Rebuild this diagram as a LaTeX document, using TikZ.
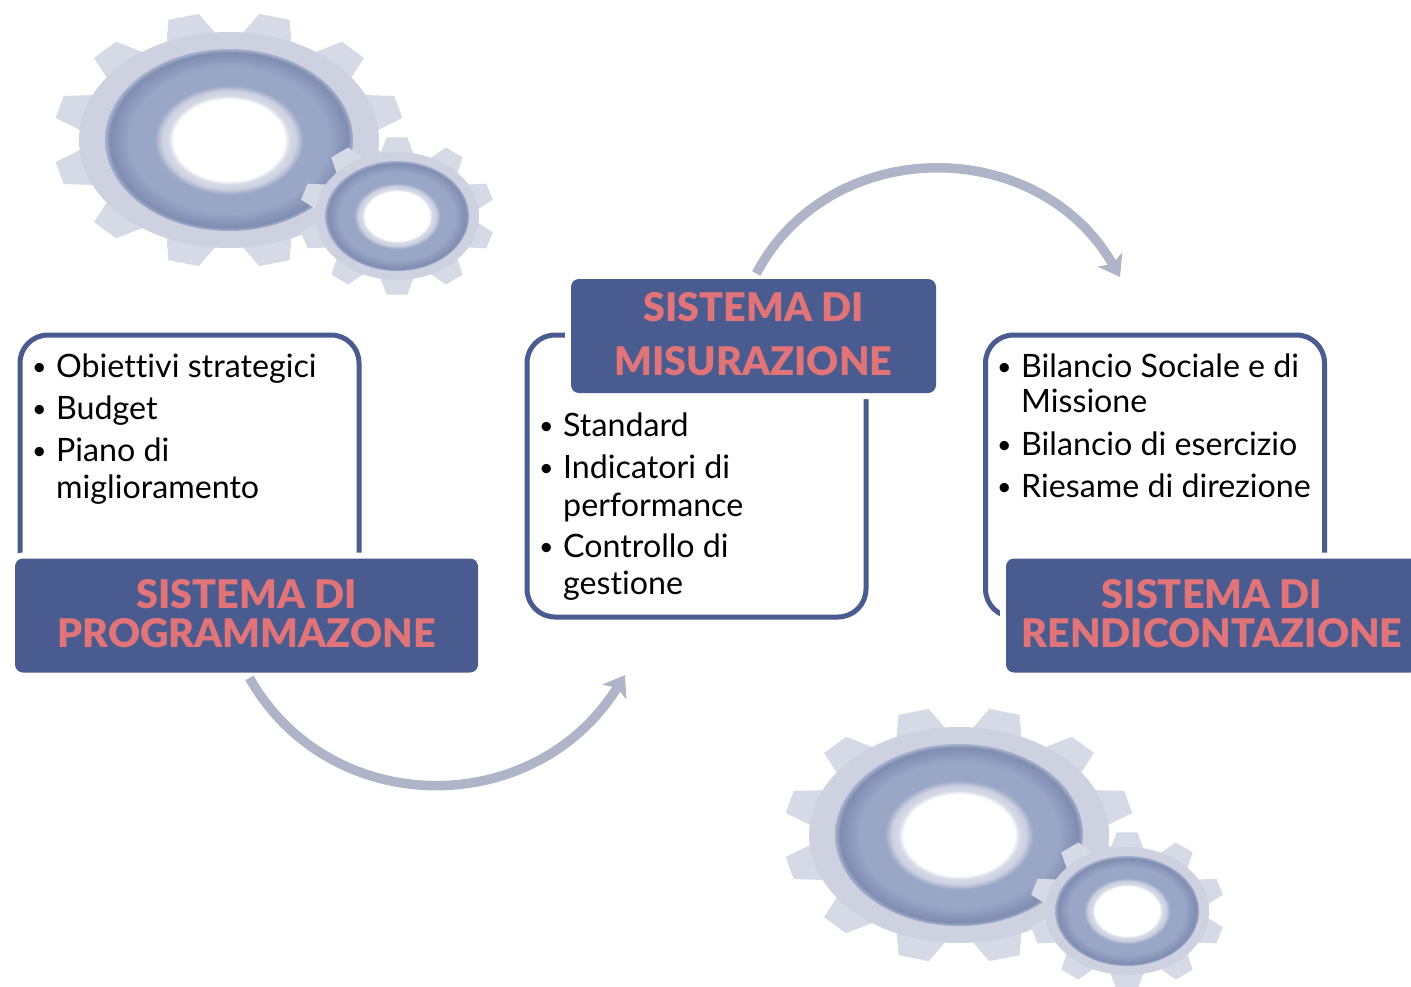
\documentclass[tikz,border=0pt]{standalone}
\usepackage{fontspec}
\setmainfont{Lato}[BoldFont={Lato Black},Ligatures=NoCommon]
\usetikzlibrary{arrows.meta}

\definecolor{boxblue}{HTML}{4A5B8F}
\definecolor{titlered}{HTML}{E07478}
\definecolor{arcgrey}{HTML}{B0B4C8}
\definecolor{gearbody}{HTML}{CDD1E0}
\definecolor{geartip}{HTML}{D6D9E6}
\definecolor{ringlight}{HTML}{A8B2CD}
\definecolor{ringmid}{HTML}{9AA6C6}
\definecolor{ringdark}{HTML}{7F8DB2}

\pgfdeclareradialshading{gearring}{\pgfpoint{0bp}{0bp}}{%
  color(0bp)=(white); color(11.2bp)=(white); color(12.2bp)=(geartip); color(13.5bp)=(gearbody);
  color(15bp)=(ringmid); color(20bp)=(ringmid); color(24bp)=(ringdark);
  color(25bp)=(ringlight); color(50bp)=(gearbody)}

% one gear: centre x, centre y, tip rx, tip ry, root rx, root ry, teeth, ring rx, ring ry
\newcommand{\drawgear}[9]{
  \begin{scope}[shift={(#1,#2)}]
    \pgfmathsetmacro{\gearstep}{360/#7}
    \foreach \k in {1,...,#7} {
      \pgfmathsetmacro{\gearang}{(\k-0.5)*\gearstep}
      \fill[geartip] (\gearang-0.32*\gearstep:#5 and #6) -- (\gearang-0.17*\gearstep:#3 and #4)
        -- (\gearang+0.17*\gearstep:#3 and #4) -- (\gearang+0.32*\gearstep:#5 and #6) -- cycle;
    }
    \fill[gearbody] (0,0) ellipse [x radius=#5, y radius=#6];
    \shade[shading=gearring] (0,0) ellipse [x radius=#8, y radius=#9];
  \end{scope}
}

\newcommand{\listbullet}{\makebox[24pt][l]{\raisebox{2pt}{\fontsize{25}{25}\selectfont •}}}
\newcommand{\titledepth}{\rule[-4pt]{0pt}{4pt}}

\begin{document}
\begin{tikzpicture}[x=1pt,y=-1pt,
    frame box/.style={draw=boxblue,fill=white,line width=5pt,rounded corners=28pt,
        minimum width=339pt,minimum height=282pt,outer sep=0pt},
    title box/.style={fill=boxblue,rounded corners=8pt,minimum width=463pt,minimum height=114pt,
        preaction={draw=white,line width=12pt},text=titlered,align=center,inner sep=0pt,
        font=\fontsize{39.5}{39}\selectfont\bfseries},
    list text/.style={anchor=base west,inner sep=0pt,font=\fontsize{32.2}{38}\selectfont},
    flow arc/.style={draw=arcgrey,line width=9.5pt,-{Stealth[length=20pt,width=28pt,inset=5pt]}}]

    \useasboundingbox (0,0) rectangle (1411,986);

    % Gears
    \drawgear{229}{140}{176}{128}{150}{108}{12}{124}{91}
    \drawgear{397}{216}{98}{79}{82}{64}{10}{72}{55}
    \drawgear{959}{835}{176}{128}{150}{108}{12}{124}{91}
    \drawgear{1127}{911}{98}{79}{82}{64}{10}{72}{55}

    % Define frames
    \node[frame box] (progframe) at (189.5,476) {};
    \node[frame box] (misframe) at (696.5,476) {};
    \node[frame box] (rendframe) at (1155,476) {};

    % Define titles
    \node[title box] (progtitle) at (246.5,615.5) {SISTEMA DI\\PROGRAMMAZONE\titledepth};
    \node[title box,minimum width=365pt,font=\fontsize{39.5}{54}\selectfont\bfseries] (mistitle) at (753.5,336) {SISTEMA DI\\MISURAZIONE\titledepth};
    \node[title box,minimum width=412pt] (rendtitle) at (1212,615.5) {SISTEMA DI\\RENDICONTAZIONE\titledepth};

    % Lists
    \node[list text] (obiettivi) at (32,377) {\listbullet Obiettivi strategici};
    \node[list text] (budget) at (32,419) {\listbullet Budget};
    \node[list text] (piano) at (32,461) {\listbullet Piano di};
    \node[list text] (miglior) at (56,498) {miglioramento};

    \node[list text] (standard) at (539,436) {\listbullet Standard};
    \node[list text] (indicatori) at (539,478) {\listbullet Indicatori di};
    \node[list text] (perform) at (563,516) {performance};
    \node[list text] (controllo) at (539,557) {\listbullet Controllo di};
    \node[list text] (gestione) at (563,594) {gestione};

    \node[list text] (bilancio) at (997,377) {\listbullet Bilancio Sociale e di};
    \node[list text] (missione) at (1021,412) {Missione};
    \node[list text] (esercizio) at (997,455) {\listbullet Bilancio di esercizio};
    \node[list text] (riesame) at (997,497) {\listbullet Riesame di direzione};

    % Draw arcs
    \coordinate (misarrow) at (625,675);
    \coordinate (rendarrow) at (1120,277);
    \draw[flow arc,shorten <=6pt] (progtitle.south) .. controls (330,820) and (535,820) .. (misarrow);
    \draw[flow arc,shorten <=6pt] (mistitle.north) .. controls (830,134) and (1038,134) .. (rendarrow);

\end{tikzpicture}
\end{document}
